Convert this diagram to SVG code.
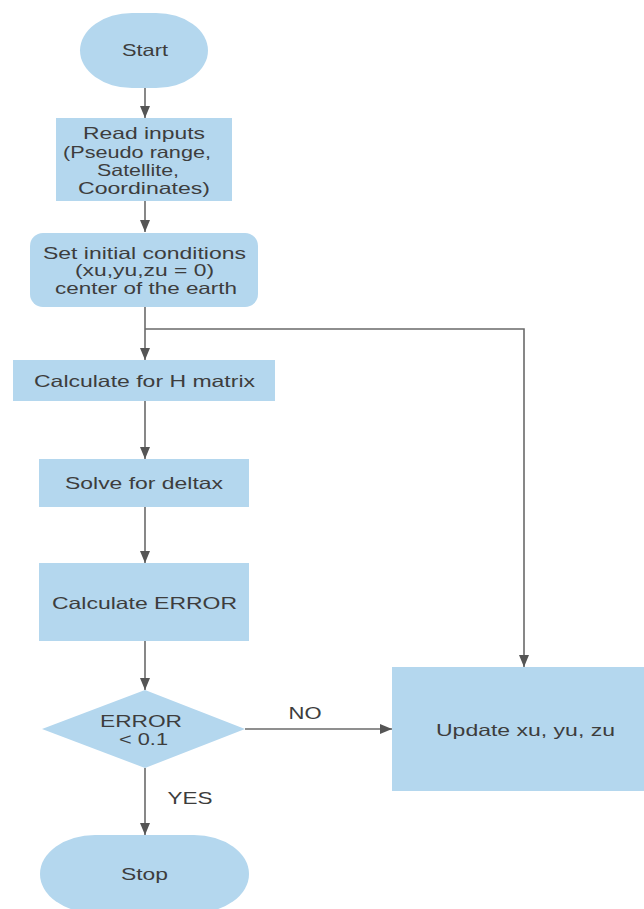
<svg xmlns="http://www.w3.org/2000/svg" width="644" height="909" viewBox="0 0 644 909">
<style>
.n{fill:#b4d7ee;}
.t{font-family:"Liberation Sans",Arial,sans-serif;font-size:16.5px;fill:#3d3d3d;text-anchor:middle;}
.c{fill:none;stroke:#6a6a6a;stroke-width:1.6;}
</style>
<defs>
<marker id="ah" viewBox="0 0 12 10" refX="12" refY="5" markerWidth="12" markerHeight="10" markerUnits="userSpaceOnUse" orient="auto">
<path d="M0,0 L12,5 L0,10 Z" fill="#555"/>
</marker>
</defs>
<rect width="644" height="909" fill="#fff"/>
<g id="connectors">
<path class="c" d="M145,88 V118" marker-end="url(#ah)"/>
<path class="c" d="M145,201 V232" marker-end="url(#ah)"/>
<path class="c" d="M145,307 V360" marker-end="url(#ah)"/>
<path class="c" d="M145,329 H524 V667" marker-end="url(#ah)"/>
<path class="c" d="M145,401 V459" marker-end="url(#ah)"/>
<path class="c" d="M145,507 V563" marker-end="url(#ah)"/>
<path class="c" d="M145,641 V690" marker-end="url(#ah)"/>
<path class="c" d="M245,729 H392" marker-end="url(#ah)"/>
<path class="c" d="M145,768 V835" marker-end="url(#ah)"/>
<text class="t" x="305" y="719" textLength="33" lengthAdjust="spacingAndGlyphs">NO</text>
<text class="t" x="190" y="804" textLength="45" lengthAdjust="spacingAndGlyphs">YES</text>
</g>
<g id="start">
<rect class="n" x="80" y="13" width="128" height="75" rx="52" ry="37.5"/>
<text class="t" x="145" y="56" textLength="46" lengthAdjust="spacingAndGlyphs">Start</text>
</g>
<g id="read">
<rect class="n" x="56" y="118" width="176" height="83"/>
<text class="t" x="144" y="139" textLength="122" lengthAdjust="spacingAndGlyphs">Read inputs</text>
<text class="t" x="137" y="158" textLength="148" lengthAdjust="spacingAndGlyphs">(Pseudo range,</text>
<text class="t" x="138" y="176" textLength="82" lengthAdjust="spacingAndGlyphs">Satellite,</text>
<text class="t" x="144" y="194" textLength="132" lengthAdjust="spacingAndGlyphs">Coordinates)</text>
</g>
<g id="init">
<rect class="n" x="30" y="233" width="228" height="74" rx="13" ry="13"/>
<text class="t" x="144.5" y="259" textLength="203" lengthAdjust="spacingAndGlyphs">Set initial conditions</text>
<text class="t" x="144.5" y="276" textLength="139" lengthAdjust="spacingAndGlyphs">(xu,yu,zu = 0)</text>
<text class="t" x="146" y="294" textLength="182" lengthAdjust="spacingAndGlyphs">center of the earth</text>
</g>
<g id="hmatrix">
<rect class="n" x="13" y="360" width="262" height="41"/>
<text class="t" x="144.5" y="387" textLength="221" lengthAdjust="spacingAndGlyphs">Calculate for H matrix</text>
</g>
<g id="solve">
<rect class="n" x="39" y="459" width="210" height="48"/>
<text class="t" x="144" y="489" textLength="158" lengthAdjust="spacingAndGlyphs">Solve for deltax</text>
</g>
<g id="error">
<rect class="n" x="39" y="563" width="210" height="78"/>
<text class="t" x="144.5" y="609" textLength="185" lengthAdjust="spacingAndGlyphs">Calculate ERROR</text>
</g>
<g id="decision">
<polygon class="n" points="145,690 245,729 145,768 42,729"/>
<text class="t" x="141" y="727" textLength="82" lengthAdjust="spacingAndGlyphs">ERROR</text>
<text class="t" x="143.5" y="745" textLength="49" lengthAdjust="spacingAndGlyphs">&lt; 0.1</text>
</g>
<g id="update">
<rect class="n" x="392" y="667" width="256" height="124"/>
<text class="t" x="525.5" y="736" textLength="179" lengthAdjust="spacingAndGlyphs">Update xu, yu, zu</text>
</g>
<g id="stop">
<rect class="n" x="40" y="835" width="209" height="78" rx="55" ry="39"/>
<text class="t" x="144.5" y="880" textLength="47" lengthAdjust="spacingAndGlyphs">Stop</text>
</g>
</svg>
